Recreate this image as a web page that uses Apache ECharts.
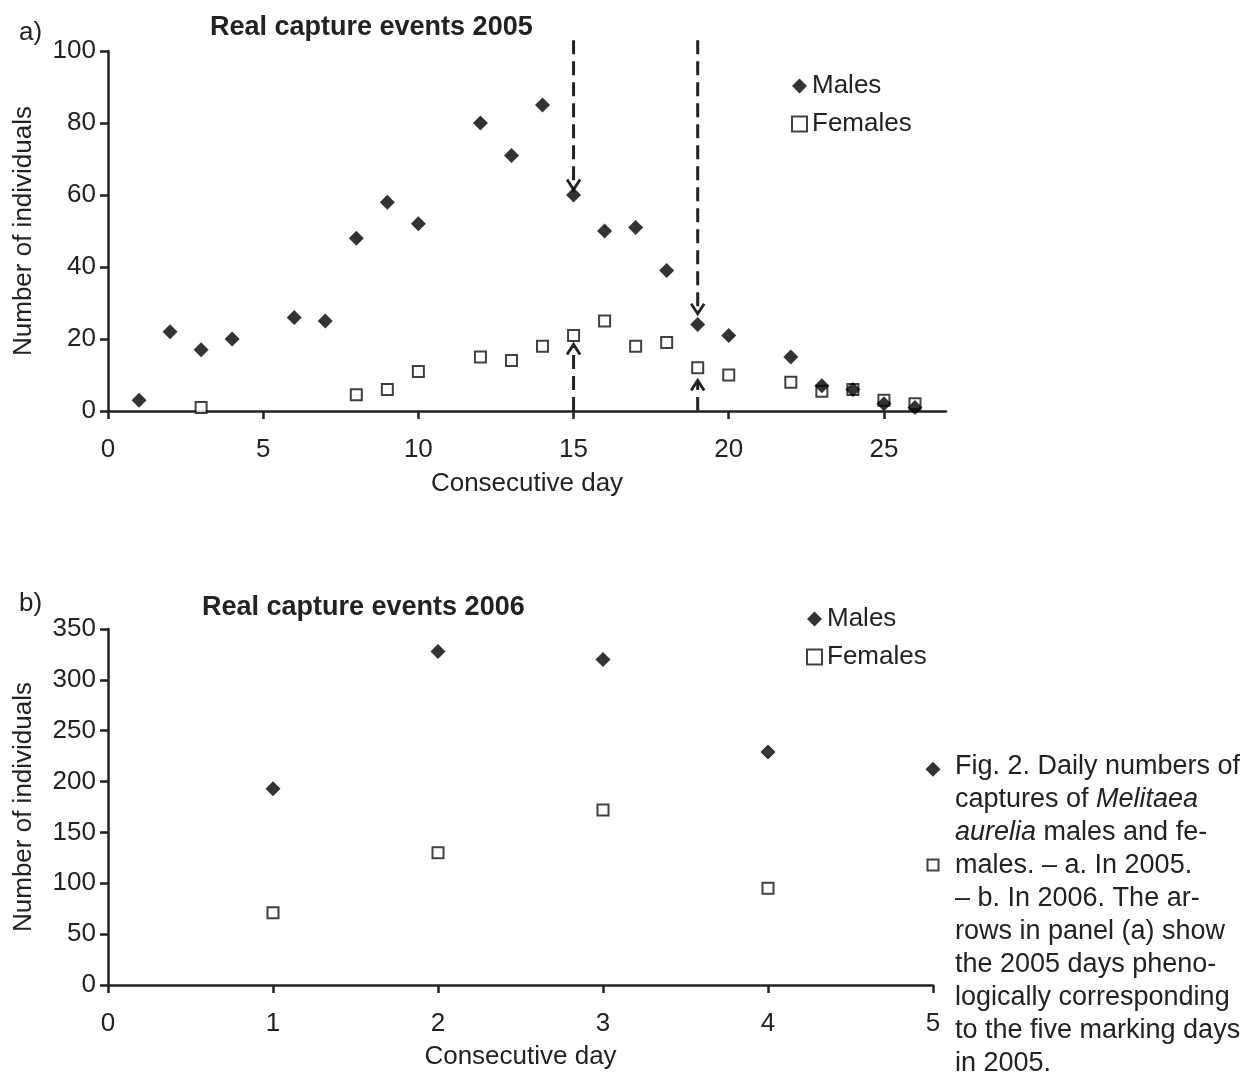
<!DOCTYPE html>
<html>
<head>
<meta charset="utf-8">
<script src="https://cdn.jsdelivr.net/npm/echarts@6/dist/echarts.min.js"></script>
<style>
html,body{margin:0;padding:0;background:#fff;}
#chart{width:1255px;height:1075px;}
</style>
</head>
<body>
<div id="chart"></div>
<script>
// Panel a (2005)
var malesDays2005 = [1,2,3,4,6,7,8,9,10,12,13,14,15,16,17,18,19,20,22,23,24,25,26];
var malesVals2005 = [3,22,17,20,26,25,48,58,52,80,71,85,60,50,51,39,24,21,15,7,6,2,1];
var femalesDays2005 = [3,8,9,10,12,13,14,15,16,17,18,19,20,22,23,24,25,26];
var femalesVals2005 = [1,4.5,6,11,15,14,18,21,25,18,19,12,10,8,5.5,6,3,2];
// arrows: [day, from value, to value]
var arrowDays = [15,15,19,19];
var arrowFrom = [103,0,103,0];
var arrowTo = [61.5,18.5,27,8.5];
var xTicks2005 = [0,5,10,15,20,25];

// Panel b (2006)
var days2006 = [1,2,3,4,5];
var males2006 = [193,328,320,229,212];
var females2006 = [71,130,172,95,118];
var xTicks2006 = [0,1,2,3,4,5];

var FONT = 'Liberation Sans, Arial, Helvetica, sans-serif';
var INK = '#222';
var FS = 26;

function pairs(xs, ys){ return xs.map(function(x,i){ return [x, ys[i]]; }); }

var axisLineStyle = {show:true, lineStyle:{color:INK, width:2.5}};
var labelStyle = {color:INK, fontSize:FS, fontFamily:FONT};
var nameStyle = {fontFamily:FONT, fontSize:FS, color:INK};

var maleStyle = {color:'#000'};
var femaleStyle = {color:'#fff', borderColor:'#111', borderWidth:2};

var chart = echarts.init(document.getElementById('chart'), null, {renderer:'canvas'});

var option = {
  animation:false,
  backgroundColor:'#fff',
  title:[
    {text:'Real capture events 2005', left:205, top:9, textStyle:{fontFamily:FONT, fontSize:27, fontWeight:'bold', color:INK}},
    {text:'Real capture events 2006', left:197, top:589, textStyle:{fontFamily:FONT, fontSize:27, fontWeight:'bold', color:INK}},
    {text:'a)', left:14, top:15, textStyle:{fontFamily:FONT, fontSize:FS, fontWeight:'normal', color:INK}},
    {text:'b)', left:14, top:586, textStyle:{fontFamily:FONT, fontSize:FS, fontWeight:'normal', color:INK}}
  ],
  legend:[
    {orient:'vertical', left:786, top:68, itemGap:12, itemWidth:15, itemHeight:15,
     textStyle:{fontFamily:FONT, fontSize:FS, color:INK}, data:['Males','Females'], selectedMode:false},
    {orient:'vertical', left:801, top:601, itemGap:12, itemWidth:15, itemHeight:15,
     textStyle:{fontFamily:FONT, fontSize:FS, color:INK}, data:['Males','Females'], selectedMode:false}
  ],
  grid:[
    {left:108, top:51, width:838, height:360},
    {left:108, top:629, width:825, height:356}
  ],
  xAxis:[
    {gridIndex:0, type:'value', min:0, max:27, interval:5,
     name:'Consecutive day', nameLocation:'middle', nameGap:60, nameTextStyle:nameStyle,
     axisLine:axisLineStyle, splitLine:{show:false},
     axisTick:{show:true, length:8, lineStyle:{color:INK, width:2.5}, customValues:xTicks2005},
     axisLabel:Object.assign({margin:26, customValues:xTicks2005}, labelStyle)},
    {gridIndex:1, type:'value', min:0, max:5, interval:1,
     name:'Consecutive day', nameLocation:'middle', nameGap:59, nameTextStyle:nameStyle,
     axisLine:axisLineStyle, splitLine:{show:false},
     axisTick:{show:true, length:8, lineStyle:{color:INK, width:2.5}, customValues:xTicks2006},
     axisLabel:Object.assign({margin:26, customValues:xTicks2006}, labelStyle)}
  ],
  yAxis:[
    {gridIndex:0, type:'value', min:0, max:100, interval:20,
     name:'Number of individuals', nameLocation:'middle', nameGap:71, nameTextStyle:nameStyle,
     axisLine:axisLineStyle, splitLine:{show:false},
     axisTick:{show:true, length:8, lineStyle:{color:INK, width:2.5}},
     axisLabel:Object.assign({margin:12}, labelStyle)},
    {gridIndex:1, type:'value', min:0, max:350, interval:50,
     name:'Number of individuals', nameLocation:'middle', nameGap:71, nameTextStyle:nameStyle,
     axisLine:axisLineStyle, splitLine:{show:false},
     axisTick:{show:true, length:8, lineStyle:{color:INK, width:2.5}},
     axisLabel:Object.assign({margin:12}, labelStyle)}
  ],
  series:[
    {name:'Males', type:'scatter', xAxisIndex:0, yAxisIndex:0, symbol:'diamond', symbolSize:15,
     itemStyle:maleStyle, data:pairs(malesDays2005, malesVals2005), z:3},
    {name:'Females', type:'scatter', xAxisIndex:0, yAxisIndex:0, symbol:'rect', symbolSize:11,
     itemStyle:femaleStyle, data:pairs(femalesDays2005, femalesVals2005), z:2},
    {name:'Males', type:'scatter', xAxisIndex:1, yAxisIndex:1, symbol:'diamond', symbolSize:15,
     itemStyle:maleStyle, data:pairs(days2006, males2006), z:3},
    {name:'Females', type:'scatter', xAxisIndex:1, yAxisIndex:1, symbol:'rect', symbolSize:11,
     itemStyle:femaleStyle, data:pairs(days2006, females2006), z:2},
    {name:'arrows', type:'custom', xAxisIndex:0, yAxisIndex:0, clip:false, z:1,
     data:arrowDays.map(function(d,i){ return [d, arrowFrom[i], arrowTo[i]]; }),
     renderItem:function(params, api){
       var p0 = api.coord([api.value(0), api.value(1)]);
       var p1 = api.coord([api.value(0), api.value(2)]);
       var dir = p1[1] > p0[1] ? 1 : -1;
       var h = 10, w = 6.5;
       return {type:'group', children:[
         {type:'line', shape:{x1:p0[0], y1:p0[1], x2:p1[0], y2:p1[1]-dir*2},
          style:{stroke:INK, lineWidth:3, lineDash:[14,7], fill:null}},
         {type:'polyline', shape:{points:[[p1[0]-w, p1[1]-dir*h],[p1[0], p1[1]],[p1[0]+w, p1[1]-dir*h]]},
          style:{stroke:INK, lineWidth:2.8, fill:null}}
       ]};
     }}
  ],
  graphic:[
    {type:'text', left:955, top:750,
     style:{
       text:'Fig. 2. Daily numbers of\ncaptures of {i|Melitaea}\n{i|aurelia} males and fe-\nmales. – a. In 2005.\n– b. In 2006. The ar-\nrows in panel (a) show\nthe 2005 days pheno-\nlogically corresponding\nto the five marking days\nin 2005.',
       font:'27px ' + FONT, fill:INK, lineHeight:33,
       rich:{i:{fontStyle:'italic', fontSize:27, fontFamily:FONT, fill:INK, lineHeight:33}}
     }}
  ]
};
chart.setOption(option);
</script>
</body>
</html>
